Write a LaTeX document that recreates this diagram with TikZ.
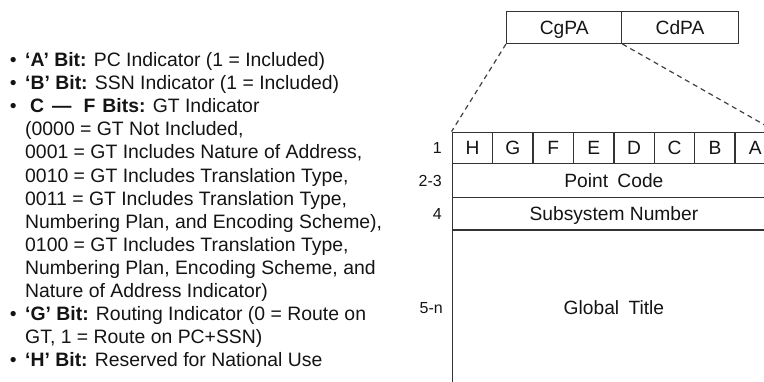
\documentclass[tikz,border=0pt]{standalone}
\usepackage{fontspec}
\setmainfont{Liberation Sans}
\begin{document}
\begin{tikzpicture}[x=1pt,y=-1pt,
  txt/.style={anchor=base west, inner sep=0pt, font=\fontsize{19.4}{23}\selectfont, text=black!92},
  bul/.style={anchor=base, inner sep=0pt, font=\fontsize{19.4}{23}\selectfont, text=black!92},
  cell/.style={draw=black!80, line width=1.5pt, inner sep=0pt, text height=13.6pt, text depth=0pt,
    font=\fontsize{19.2}{23}\selectfont, text=black!92},
  rowlab/.style={anchor=east, inner sep=0pt, text height=11.5pt, text depth=0pt,
    font=\fontsize{16}{18}\selectfont, text=black!92},
  zoomline/.style={draw=black!75, line width=1.2pt, dash pattern=on 5pt off 4pt}]

\useasboundingbox (0,0) rectangle (764,381);
\clip (0,0) rectangle (764,381);

% ---- bullet list ----
\def\bl#1{66.5+23.1*(#1-1)}
\node[bul] (b1) at (13.3,{\bl{1}}) {•};
\node[txt] (t1) at (25,{\bl{1}}) {\textbf{‘A’ Bit:} PC Indicator (1 = Included)};
\node[bul] (b2) at (13.3,{\bl{2}}) {•};
\node[txt] (t2) at (25,{\bl{2}}) {\textbf{‘B’ Bit:} SSN Indicator (1 = Included)};
\node[bul] (b3) at (13.3,{\bl{3}}) {•};
\node[txt] (t3) at (25,{\bl{3}}) {\textbf{\hspace{5pt}C\hspace{8pt}—\hspace{12pt}F\hspace{7pt}Bits:} GT Indicator};
\node[txt] (t4) at (25,{\bl{4}}) {(0000 = GT Not Included,};
\node[txt] (t5) at (25,{\bl{5}}) {0001 = GT Includes Nature of Address,};
\node[txt] (t6) at (25,{\bl{6}}) {0010 = GT Includes Translation Type,};
\node[txt] (t7) at (25,{\bl{7}}) {0011 = GT Includes Translation Type,};
\node[txt] (t8) at (25,{\bl{8}}) {Numbering Plan, and Encoding Scheme),};
\node[txt] (t9) at (25,{\bl{9}}) {0100 = GT Includes Translation Type,};
\node[txt] (t10) at (25,{\bl{10}}) {Numbering Plan, Encoding Scheme, and};
\node[txt] (t11) at (25,{\bl{11}}) {Nature of Address Indicator)};
\node[bul] (b12) at (13.3,{\bl{12}}) {•};
\node[txt] (t12) at (25,{\bl{12}}) {\textbf{‘G’ Bit:} Routing Indicator (0 = Route on};
\node[txt] (t13) at (25,{\bl{13}}) {GT, 1 = Route on PC+SSN)};
\node[bul] (b14) at (13.3,{\bl{14}}) {•};
\node[txt] (t14) at (25,{\bl{14}}) {\textbf{‘H’ Bit:} Reserved for National Use};

% ---- address fields ----
\node[cell, minimum width=115pt, minimum height=31.6pt] (cgpa) at (564.2,27.5) {CgPA};
\node[cell, minimum width=116.6pt, minimum height=31.6pt] (cdpa) at (680,27.5) {CdPA};

% ---- calling party address layout ----
\foreach \l [count=\i] in {H,G,F,E,D,C,B,A}
  \node[cell, minimum width=40.4pt, minimum height=31pt] (bit\l) at ({452.3+40.4*(\i-0.5)},147.8) {\l};
\node[cell, minimum width=323.2pt, minimum height=34pt] (pc) at (613.9,180.3) {Point\hspace{4pt} Code};
\node[cell, minimum width=323.2pt, minimum height=32.7pt] (ssn) at (613.9,213.65) {Subsystem Number};
\node[cell, minimum width=323.2pt, minimum height=156pt] (gt) at (613.9,308) {Global\hspace{4pt} Title};

% ---- octet numbers ----
\node[rowlab] (o1) at (442,147.8) {1};
\node[rowlab] (o2) at (442,180.3) {2-3};
\node[rowlab] (o4) at (442,213.65) {4};
\node[rowlab] (o5) at (443,308) {5-n};

% ---- expansion lines ----
\draw[zoomline] (cgpa.south west) -- (bitH.north west);
\draw[zoomline] (cgpa.south east) -- (bitA.north east);
\end{tikzpicture}
\end{document}
